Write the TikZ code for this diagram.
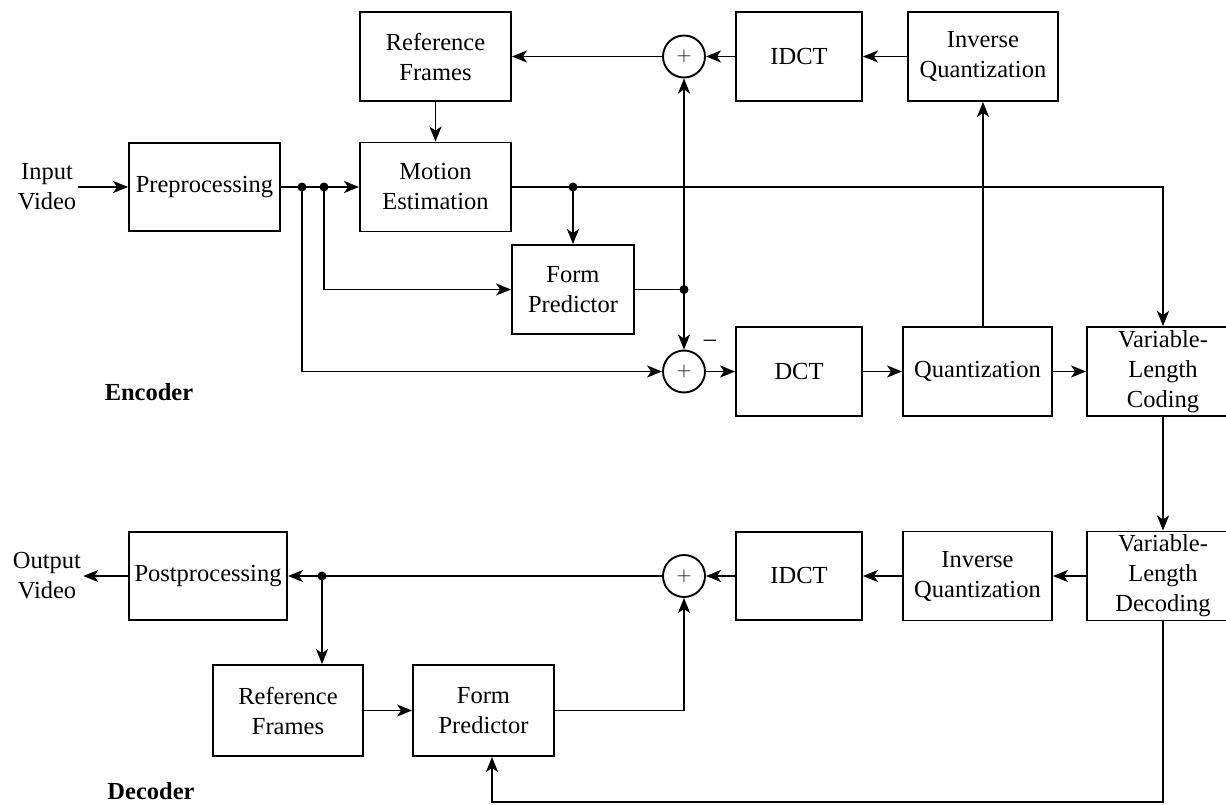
\documentclass[tikz,border=0pt]{standalone}
\usepackage{fontspec}
\setmainfont{Liberation Serif}
\usetikzlibrary{arrows.meta}
\begin{document}
\begin{tikzpicture}[x=1pt,y=-1pt,
  every node/.style={font=\fontsize{24.5}{30}\selectfont},
  box/.style={draw, line width=1.9pt, inner sep=0pt, align=center},
  sum/.style={draw, circle, line width=1.9pt, minimum size=42pt, inner sep=0pt,
              font=\fontsize{20}{24}\selectfont},
  lbl/.style={align=center, inner sep=2pt},
  wire/.style={line width=1.9pt},
  arr/.style={line width=1.9pt, -{Stealth[length=15pt,width=12pt,inset=4pt]}},
  dot/.style={fill=black}]
\useasboundingbox (0,0) rectangle (1226,805);
\clip (0,0) rectangle (1226,805);

% ---------------- Encoder ----------------
\node[lbl] (inlbl) at (47,187) {Input\\Video};
\node[box, minimum width=151pt, minimum height=88pt] (pre) at (204.5,187) {Preprocessing};
\node[box, minimum width=151pt, minimum height=89pt] (r1) at (435.5,56.5) {Reference\\Frames};
\node[box, minimum width=151pt, minimum height=89pt] (me) at (435.5,187) {Motion\\Estimation};
\node[box, minimum width=122pt, minimum height=89pt] (fp1) at (573,289.5) {Form\\Predictor};
\node[box, minimum width=126pt, minimum height=89pt] (idct1) at (799,56.5) {IDCT};
\node[box, minimum width=150pt, minimum height=89pt] (iq1) at (983,56.5) {Inverse\\Quantization};
\node[sum] (s1) at (684,56.5) {$+$};
\node[sum] (s2) at (684,371.5) {$+$};
\node[box, minimum width=126pt, minimum height=89pt] (dct) at (799,371.5) {DCT};
\node[box, minimum width=149pt, minimum height=89pt] (q) at (977.5,371.5) {Quantization};
\node[box, minimum width=152pt, minimum height=89pt] (vlc) at (1163,371.5) {Variable-\\Length\\Coding};
\node (minus) at (710,343) {–};
\node[font=\fontsize{24.5}{30}\selectfont\bfseries] (enc) at (149,392) {Encoder};

\coordinate (d1) at (302,187);
\coordinate (d2) at (324,187);
\coordinate (d3) at (573,187);
\coordinate (d4) at (684,289.5);

\draw[arr] (inlbl.east |- pre.west) -- (pre.west);
\draw[wire] (pre.east) -- (d2);
\draw[arr] (d2) -- (me.west);
\draw[arr] (d2) |- (fp1.west);
\draw[arr] (d1) |- (s2.west);
\draw[arr] (r1.south) -- (me.north);
\draw[wire] (me.east) -- (d3);
\draw[arr] (d3) -| (vlc.north);
\draw[arr] (d3) -- (fp1.north);
\draw[wire] (fp1.east) -- (d4);
\draw[arr] (d4) -- (s2.north);
\draw[arr] (d4) -- (s1.south);
\draw[arr] (s1.west) -- (r1.east);
\draw[arr] (idct1.west) -- (s1.east);
\draw[arr] (iq1.west) -- (idct1.east);
\draw[arr] (q.north -| iq1.south) -- (iq1.south);
\draw[arr] (s2.east) -- (dct.west);
\draw[arr] (dct.east) -- (q.west);
\draw[arr] (q.east) -- (vlc.west);
\foreach \p in {d1,d2,d3,d4} \fill[dot] (\p) circle (4.5pt);

% ---------------- Decoder ----------------
\node[lbl] (outlbl) at (47,576) {Output\\Video};
\node[box, minimum width=158pt, minimum height=88pt] (post) at (208,576) {Postprocessing};
\node[sum] (s3) at (684,576) {$+$};
\node[box, minimum width=126pt, minimum height=88pt] (idct2) at (799,576) {IDCT};
\node[box, minimum width=149pt, minimum height=89pt] (iq2) at (977.5,576) {Inverse\\Quantization};
\node[box, minimum width=152pt, minimum height=89pt] (vld) at (1163,576) {Variable-\\Length\\Decoding};
\node[box, minimum width=150pt, minimum height=91pt] (r2) at (288,710.5) {Reference\\Frames};
\node[box, minimum width=141pt, minimum height=91pt] (fp2) at (483.5,710.5) {Form\\Predictor};
\node[font=\fontsize{24.5}{30}\selectfont\bfseries] (dec) at (151,791) {Decoder};

\coordinate (d5) at (322,576);
\coordinate (c1) at (492,802);

\draw[arr] (vlc.south) -- (vld.north);
\draw[arr] (vld.west) -- (iq2.east);
\draw[arr] (iq2.west) -- (idct2.east);
\draw[arr] (idct2.west) -- (s3.east);
\draw[wire] (s3.west) -- (d5);
\draw[arr] (d5) -- (post.east);
\draw[arr] (d5) -- (d5 |- r2.north);
\draw[arr] (post.west) -- (outlbl.east |- post.west);
\draw[arr] (r2.east) -- (fp2.west);
\draw[arr] (fp2.east) -| (s3.south);
\draw[arr] (vld.south) |- (c1) -- (c1 |- fp2.south);
\fill[dot] (d5) circle (4.5pt);
\end{tikzpicture}
\end{document}
